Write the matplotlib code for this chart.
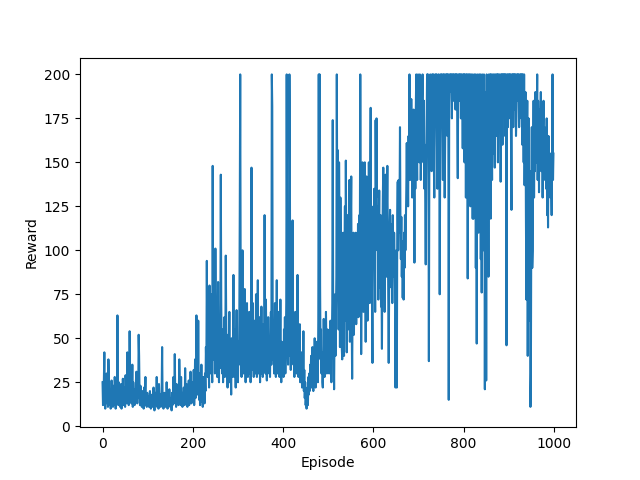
import numpy as np
import matplotlib
matplotlib.use("Agg")
import matplotlib.pyplot as plt

# rewards per episode (100 episodes per list)
r_000 = [25, 12, 18, 27, 42, 15, 10, 22, 14, 30,
         13, 19, 11, 38, 24, 12, 16, 21, 10, 14,
         26, 13, 17, 11, 23, 15, 12, 28, 18, 10,
         14, 22, 16, 63, 20, 12, 25, 13, 19, 11,
         15, 24, 10, 18, 13, 27, 12, 16, 22, 14,
         11, 29, 17, 13, 20, 42, 15, 24, 12, 18,
         54, 30, 16, 22, 13, 19, 35, 11, 25, 14,
         17, 12, 21, 15, 26, 31, 18, 13, 24, 16,
         52, 40, 19, 12, 23, 14, 17, 11, 20, 13,
         16, 10, 22, 14, 18, 28, 12, 15, 11, 19]
r_100 = [14, 12, 17, 11, 15, 20, 13, 10, 16, 12,
         18, 11, 14, 22, 13, 9, 15, 12, 19, 14,
         28, 11, 16, 13, 10, 24, 15, 12, 18, 11,
         13, 20, 45, 16, 12, 10, 14, 19, 13, 11,
         17, 12, 25, 15, 10, 13, 18, 12, 21, 14,
         11, 16, 13, 9, 19, 12, 15, 28, 13, 17,
         41, 20, 14, 11, 24, 16, 13, 22, 12, 18,
         38, 25, 15, 12, 28, 14, 19, 11, 16, 13,
         22, 15, 12, 33, 18, 14, 24, 13, 11, 17,
         15, 26, 12, 20, 14, 31, 16, 13, 22, 18]
r_200 = [25, 14, 32, 12, 20, 38, 16, 28, 63, 45,
         22, 18, 60, 24, 15, 30, 12, 26, 19, 35,
         14, 22, 11, 28, 17, 24, 13, 30, 20, 45,
         32, 94, 50, 28, 65, 40, 22, 80, 35, 55,
         30, 75, 42, 25, 148, 60, 38, 92, 48, 30,
         101, 55, 35, 70, 28, 45, 82, 38, 25, 52,
         33, 60, 143, 70, 40, 30, 55, 25, 48, 35,
         62, 28, 45, 97, 58, 32, 40, 22, 52, 30,
         38, 65, 25, 44, 30, 18, 50, 35, 28, 42,
         86, 40, 28, 55, 35, 22, 45, 66, 30, 38]
r_300 = [25, 48, 35, 60, 120, 200, 90, 40, 28, 55,
         100, 45, 30, 62, 35, 78, 42, 25, 58, 33,
         70, 40, 28, 52, 36, 65, 30, 45, 25, 38,
         147, 55, 32, 70, 40, 28, 60, 35, 48, 30,
         75, 42, 28, 55, 83, 45, 30, 62, 38, 25,
         50, 35, 68, 30, 45, 28, 58, 40, 33, 120,
         48, 30, 72, 38, 26, 55, 35, 62, 42, 30,
         50, 28, 45, 65, 35, 200, 182, 60, 38, 52,
         30, 45, 70, 35, 28, 55, 83, 40, 30, 65,
         38, 50, 28, 42, 72, 35, 25, 48, 36, 30]
r_400 = [40, 28, 55, 35, 62, 30, 45, 70, 200, 95,
         50, 35, 60, 40, 200, 150, 48, 32, 55, 38,
         45, 117, 60, 35, 50, 28, 42, 65, 33, 48,
         30, 55, 86, 40, 28, 45, 35, 58, 25, 38,
         30, 42, 22, 35, 28, 54, 20, 32, 16, 25,
         12, 18, 10, 14, 22, 12, 28, 18, 30, 20,
         35, 25, 40, 22, 30, 45, 28, 20, 38, 25,
         50, 32, 22, 42, 28, 48, 35, 25, 60, 200,
         45, 200, 80, 38, 55, 30, 42, 25, 22, 35,
         61, 40, 28, 50, 35, 65, 45, 30, 55, 40]
r_500 = [35, 48, 30, 55, 42, 60, 38, 25, 50, 70,
         174, 65, 45, 21, 55, 75, 40, 62, 85, 200,
         120, 157, 140, 55, 150, 110, 45, 130, 90, 60,
         45, 38, 80, 110, 50, 40, 95, 125, 60, 151,
         100, 42, 90, 120, 55, 60, 105, 140, 48, 75,
         115, 142, 60, 27, 70, 95, 110, 52, 100, 69,
         85, 110, 58, 75, 105, 90, 115, 62, 100, 120,
         95, 200, 110, 41, 85, 130, 150, 115, 65, 140,
         120, 150, 100, 48, 110, 142, 125, 60, 135, 105,
         150, 120, 70, 140, 181, 110, 125, 70, 36, 100]
r_600 = [120, 100, 135, 110, 65, 174, 130, 175, 115, 100,
         125, 72, 110, 134, 79, 105, 120, 68, 85, 44,
         100, 130, 147, 115, 142, 65, 120, 143, 100, 85,
         125, 148, 110, 70, 36, 80, 110, 123, 95, 79,
         105, 115, 70, 120, 100, 85, 110, 95, 79, 22,
         60, 100, 22, 120, 139, 100, 140, 110, 125, 170,
         115, 95, 119, 85, 105, 73, 100, 72, 110, 90,
         120, 100, 115, 135, 161, 130, 150, 125, 165, 140,
         200, 155, 175, 140, 186, 160, 130, 170, 145, 180,
         150, 93, 165, 135, 179, 200, 160, 140, 185, 200]
r_700 = [160, 185, 150, 200, 175, 140, 160, 174, 190, 200,
         170, 150, 185, 135, 160, 125, 92, 140, 170, 200,
         185, 200, 160, 37, 150, 175, 200, 190, 160, 145,
         200, 200, 175, 200, 150, 130, 165, 200, 200, 185,
         200, 160, 135, 175, 200, 200, 165, 75, 150, 200,
         190, 200, 200, 170, 140, 200, 181, 200, 130, 160,
         200, 200, 185, 200, 165, 200, 200, 15, 180, 200,
         200, 190, 200, 200, 175, 200, 200, 185, 200, 200,
         200, 200, 180, 200, 195, 200, 170, 141, 200, 200,
         200, 185, 200, 200, 175, 200, 200, 190, 158, 200]
r_800 = [175, 200, 150, 200, 190, 130, 200, 165, 200, 84,
         185, 200, 140, 200, 160, 125, 200, 175, 145, 200,
         118, 190, 118, 200, 155, 130, 200, 90, 175, 47,
         200, 140, 185, 110, 200, 160, 125, 200, 95, 170,
         76, 200, 135, 180, 100, 200, 150, 21, 120, 190,
         26, 200, 145, 110, 175, 85, 200, 130, 160, 200,
         118, 200, 170, 140, 200, 185, 155, 200, 175, 147,
         200, 190, 165, 200, 180, 200, 150, 200, 195, 170,
         200, 185, 139, 200, 175, 200, 160, 200, 190, 200,
         180, 200, 165, 200, 200, 46, 185, 200, 170, 200]
r_900 = [200, 190, 200, 175, 200, 160, 123, 200, 185, 200,
         170, 200, 195, 200, 180, 200, 165, 176, 200, 190,
         200, 185, 200, 170, 181, 200, 190, 200, 175, 200,
         160, 200, 185, 150, 200, 137, 170, 190, 120, 72,
         150, 185, 40, 130, 175, 100, 60, 145, 11, 30,
         125, 170, 90, 100, 150, 185, 130, 165, 145, 190,
         170, 150, 175, 200, 140, 185, 165, 133, 180, 150,
         170, 190, 145, 158, 175, 130, 165, 185, 140, 170,
         150, 160, 157, 135, 175, 120, 150, 113, 165, 140,
         145, 148, 130, 155, 135, 120, 150, 200, 140, 155]

rewards = np.array(r_000 + r_100 + r_200 + r_300 + r_400 +
                   r_500 + r_600 + r_700 + r_800 + r_900)

plt.figure(figsize=(6.4, 4.8), dpi=100)
plt.plot(rewards)
plt.xlabel('Episode')
plt.ylabel('Reward')
plt.savefig('out.png')
